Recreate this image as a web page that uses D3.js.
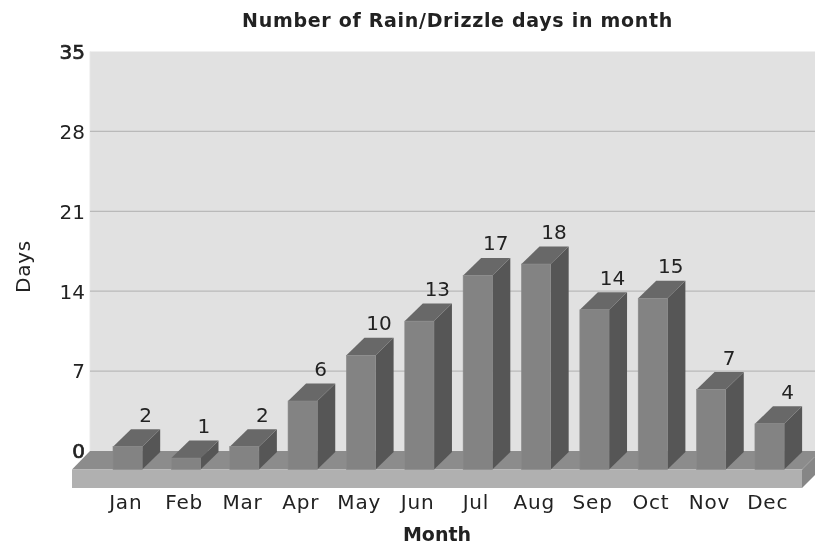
<!DOCTYPE html>
<html><head><meta charset="utf-8">
<style>html,body{margin:0;padding:0;background:#fff}svg{display:block;filter:blur(0.45px)}text{font-family:"DejaVu Sans",Verdana,sans-serif;fill:#222}</style>
<script src="https://cdn.jsdelivr.net/npm/d3@7/dist/d3.min.js"></script>
</head><body><svg id="c" width="815" height="544"></svg>
<script>
const months=["Jan","Feb","Mar","Apr","May","Jun","Jul","Aug","Sep","Oct","Nov","Dec"];
const rainDays=[2,1,2,6,10,13,17,18,14,15,7,4];
const axisTicks=[0,7,14,21,28,35];
const titleText="Number of Rain/Drizzle days in month";
const xTitle="Month", yTitle="Days";

const svg=d3.select("#c");
const dx=18,dy=17.5,floorDy=18.5;
const wallL=90,wallR=815,wallTop=51.5,wallBase=451;
const frontBase=wallBase+floorDy;
const y=d3.scaleLinear().domain([0,35]).range([wallBase,wallTop]);
const x=d3.scaleBand().domain(months).range([98.4,798.7]).paddingInner(0.5).paddingOuter(0.25);
const h=v=>y(0)-y(v);
const poly=(pts,fill)=>svg.append("polygon").attr("points",pts.map(p=>p.join(",")).join(" ")).attr("fill",fill);

svg.append("rect").attr("x",wallL).attr("y",wallTop).attr("width",wallR-wallL).attr("height",wallBase-wallTop).attr("fill","#e1e1e1");
svg.append("line").attr("x1",wallL).attr("x2",wallL).attr("y1",wallTop).attr("y2",wallBase).attr("stroke","#e8e8e8");

svg.selectAll("line.grid").data(axisTicks.filter(t=>t>0&&t<35)).enter().append("line").attr("class","grid")
  .attr("x1",wallL).attr("x2",wallR).attr("y1",d=>y(d)).attr("y2",d=>y(d)).attr("stroke","#b9b9b9").attr("stroke-width",1.3);

// floor
const fl=72,fr=802,slabH=18.5;
poly([[fl,frontBase],[fl+dx,wallBase],[815,wallBase],[815,frontBase-13],[fr,frontBase]],"#8c8c8c");
poly([[fl,frontBase],[fr,frontBase],[fr,frontBase+slabH],[fl,frontBase+slabH]],"#b0b0b0");
poly([[fr,frontBase],[815,frontBase-13],[815,frontBase+slabH-13],[fr,frontBase+slabH]],"#868686");

// bars
const g=svg.selectAll("g.bar").data(months.map((m,i)=>({m,v:rainDays[i]}))).enter().append("g").attr("class","bar");
g.each(function(d){
  const s=d3.select(this),x0=x(d.m),w=x.bandwidth(),t=frontBase-h(d.v),b=frontBase;
  const p=(pts,f)=>s.append("polygon").attr("points",pts.map(q=>q.join(",")).join(" ")).attr("fill",f);
  p([[x0+w,t],[x0+w+dx,t-dy],[x0+w+dx,b-dy],[x0+w,b]],"#565656");
  p([[x0,t],[x0+dx,t-dy],[x0+w+dx,t-dy],[x0+w,t]],"#686868");
  s.append("rect").attr("x",x0).attr("y",t).attr("width",w).attr("height",b-t).attr("fill","#838383").attr("stroke","#8a8a8a").attr("stroke-width",.6);
  s.append("text").attr("x",x0+w/2+18).attr("y",t-dy-7.5).attr("text-anchor","middle").attr("font-size",20).text(d.v);
});

// y axis labels
svg.selectAll("text.yt").data(axisTicks).enter().append("text").attr("class","yt")
  .attr("x",85).attr("y",d=>y(d)+7.3).attr("text-anchor","end")
  .attr("font-size",20).attr("stroke",d=>(d===0||d===35)?"#222":"none").attr("stroke-width",.7).text(d=>d);

// x labels
svg.selectAll("text.xt").data(months).enter().append("text").attr("class","xt")
  .attr("x",d=>x(d)+x.bandwidth()/2-1.8).attr("y",509).attr("text-anchor","middle").attr("font-size",20).attr("letter-spacing",0.8).text(d=>d);

svg.append("text").attr("x",457.5).attr("y",27).attr("text-anchor","middle").attr("font-size",19).attr("font-weight","bold").attr("letter-spacing",0.7).text(titleText);
svg.append("text").attr("x",437).attr("y",541).attr("text-anchor","middle").attr("font-size",19).attr("font-weight","bold").text(xTitle);
svg.append("text").attr("transform","translate(30,266.5) rotate(-90)").attr("text-anchor","middle").attr("font-size",20).attr("letter-spacing",0.8).text(yTitle);
</script></body></html>
